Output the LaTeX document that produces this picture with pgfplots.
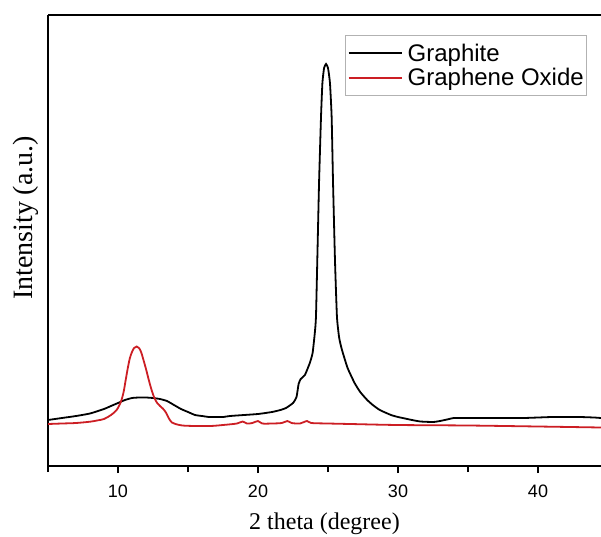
\documentclass[border=0pt]{standalone}
\usepackage{fontspec}
\setmainfont{Liberation Serif}
\newfontfamily\arial{Liberation Sans}
\usepackage{pgfplots}
\pgfplotsset{compat=1.18}
\definecolor{gored}{RGB}{204,30,36}
\begin{document}
\begin{tikzpicture}
\begin{axis}[
  scale only axis,
  width=553pt, height=451pt,
  xmin=5, xmax=44.5, ymin=0, ymax=451,
  axis x line*=box, axis y line*=left,
  axis line style={line width=1.3pt, black},
  ytick=\empty,
  xtick={10,20,30,40},
  minor xtick={5,15,25,35},
  xtick pos=left,
  tick align=outside,
  major tick length=7pt, minor tick length=6pt,
  every tick/.style={black, line width=1.2pt},
  /pgf/number format/assume math mode=true,
  tick label style={font=\arial\fontsize{18}{20}\selectfont},
  xticklabel style={yshift=-8pt},
  xlabel={2 theta (degree)},
  ylabel={Intensity (a.u.)},
  xlabel style={font=\fontsize{24}{28}\selectfont, at={(axis description cs:0.5,-0.127)}, anchor=center},
  ylabel style={font=\fontsize{28}{32}\selectfont, at={(axis description cs:-0.04,0.55)}, anchor=center},
  legend style={at={(0.975,0.955)}, anchor=north east, draw=gray!60, thick,
    font=\arial\fontsize{24}{27}\selectfont, inner xsep=2pt, inner ysep=7pt, row sep=4pt,
    column sep=4pt, nodes={inner sep=1pt}},
  legend cell align=left,
  legend image code/.code={\draw[#1] (0pt,0pt) -- (53pt,0pt);},
  every legend image post/.style={line width=2.2pt},
]
\addplot[black, line width=1.8pt, smooth, tension=0.3] coordinates {
(5,46) (6,48) (7,50) (8,52.5) (9,57) (9.5,60) (10,63) (10.5,66) (11,68) (11.5,68.5)
(12,68.5) (12.5,68) (13,67) (13.5,65) (14,61) (14.5,57) (15,54) (15.5,51) (16,50)
(16.5,49) (17,49) (17.5,49) (18,50) (19,51) (20,52) (21,54) (21.6,56) (22.0,58)
(22.5,63) (22.75,69) (22.9,82) (23.05,87) (23.35,91) (23.7,103) (23.9,113) (24.05,132)
(24.14,149) (24.25,215) (24.36,283) (24.5,349) (24.6,383) (24.72,398) (24.86,402)
(25.0,398) (25.14,383) (25.26,349) (25.36,283) (25.5,205) (25.64,149) (25.8,128)
(26.0,116) (26.4,98) (26.9,83) (27.3,74) (27.8,66) (28.2,61) (28.7,56) (29.5,51)
(30,49) (30.5,47.5) (31,46) (31.6,44.5) (32.5,44) (33,45) (33.5,46.5) (34,48) (35,48)
(36,48) (37,48) (38,48) (39,48) (40,48.5) (41,49) (42,49) (43,49) (44,48.5) (44.5,48)
};
\addlegendentry{Graphite}
\addplot[gored, line width=1.8pt, smooth, tension=0.5] coordinates {
(5,42) (6,42.5) (7,43) (8,44.3) (8.5,45.5) (9,47) (9.5,51) (9.9,56) (10.2,64) (10.4,74)
(10.55,86) (10.7,98) (10.85,108) (11.0,114) (11.15,118) (11.33,119.5) (11.5,118)
(11.65,114) (11.8,107) (12.0,97) (12.2,86) (12.4,76) (12.6,68) (12.8,63) (13.0,60)
(13.2,57.5) (13.4,54) (13.55,50) (13.7,46) (13.85,43.5) (14.1,42) (14.6,40.5) (15.5,40)
(16.6,40) (17.5,41) (18.5,42.5) (18.9,44.5) (19.2,42.5) (19.6,43) (20.0,45) (20.3,42.5)
(21,42.5) (21.7,43) (22.1,45) (22.4,43) (23,42.5) (23.5,45) (23.8,43) (25,42.5)
(26.6,42) (30,41) (35,40.5) (40,39.5) (44.5,38.5)
};
\addlegendentry{Graphene Oxide}
\end{axis}
\pgfresetboundingbox
\useasboundingbox ([shift={(-48pt,-70pt)}]current axis.south west) rectangle ([shift={(0pt,15pt)}]current axis.north east);
\end{tikzpicture}
\end{document}
